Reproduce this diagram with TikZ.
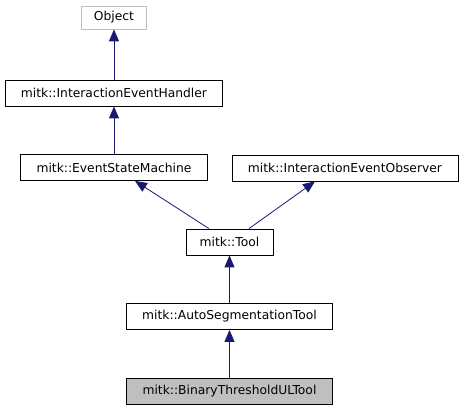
\documentclass[tikz,border=0pt]{standalone}
\usepackage{fontspec}
\setmainfont{DejaVu Sans}
\usetikzlibrary{arrows.meta}

\definecolor{edgeblue}{HTML}{191970}
\definecolor{boxgray}{HTML}{BFBFBF}
\tikzset{
	classbox/.style={draw=black, line width=0.8pt, fill=white, minimum height=26pt,
		inner sep=0pt, font=\fontsize{12.3}{14}\selectfont},
	inherit/.style={draw=edgeblue, line width=0.8pt,
		{Triangle[length=12pt,width=10pt,fill=edgeblue]}-},
}

\begin{document}
\begin{tikzpicture}[x=1pt,y=-1pt]
	\useasboundingbox (0,0) rectangle (464,411);

	% classes
	\node[classbox, draw=boxgray, minimum width=65pt, minimum height=23pt] (object) at (114,17.5) {Object};
	\node[classbox, minimum width=217pt] (handler) at (114,93) {mitk::InteractionEventHandler};
	\node[classbox, minimum width=187pt] (machine) at (114,167.5) {mitk::EventStateMachine};
	\node[classbox, minimum width=226pt] (observer) at (345,168) {mitk::InteractionEventObserver};
	\node[classbox, minimum width=87pt] (tool) at (229.5,242) {mitk::Tool};
	\node[classbox, minimum width=206pt] (autoseg) at (229.5,316.5) {mitk::AutoSegmentationTool};
	\node[classbox, fill=boxgray, minimum width=206pt] (binary) at (229.5,391) {mitk::BinaryThresholdULTool};

	% inheritance
	\draw[inherit] (object.south) -- (handler.north);
	\draw[inherit] (handler.south) -- (machine.north);
	\draw[inherit] ([xshift=21pt]machine.south) -- ([xshift=-20.5pt]tool.north);
	\draw[inherit] ([xshift=-30pt]observer.south) -- ([xshift=19.5pt]tool.north);
	\draw[inherit] (tool.south) -- (autoseg.north);
	\draw[inherit] (autoseg.south) -- (binary.north);

\end{tikzpicture}
\end{document}
